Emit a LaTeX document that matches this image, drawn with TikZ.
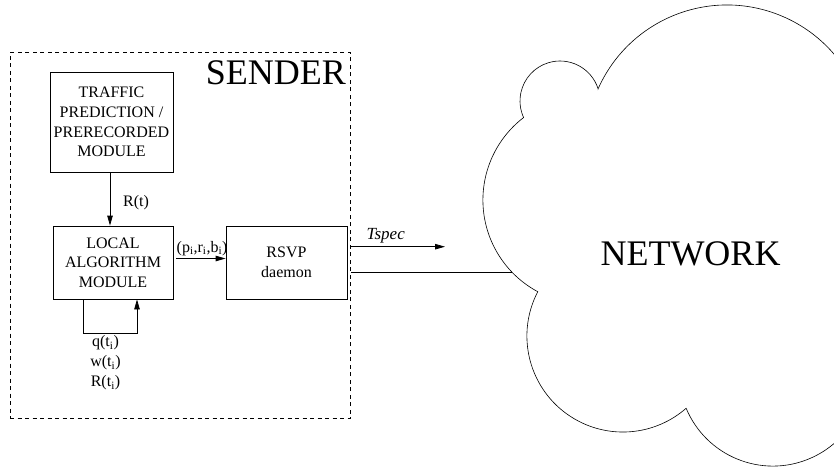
\documentclass[tikz,border=0pt]{standalone}
\usepackage{fontspec}
\setmainfont{Liberation Serif}
\usetikzlibrary{arrows.meta}
\begin{document}
\begin{tikzpicture}[x=1pt,y=-1pt,
  box/.style={draw, line width=0.8pt, inner sep=0pt, align=center,
              font=\fontsize{16}{19.6}\selectfont},
  lbl/.style={font=\fontsize{16}{20}\selectfont, inner sep=0pt, align=center},
  big/.style={font=\fontsize{36}{40}\selectfont, inner sep=0pt},
  arr/.style={-{Triangle[length=10pt,width=5.5pt]}, line width=0.8pt},
  senderbox/.style={draw, line width=0.7pt, dash pattern=on 4pt off 3.5pt, inner sep=0pt}]
\useasboundingbox (0,0) rectangle (834,468);
% sender frame
\node[senderbox, minimum width=340.7pt, minimum height=365.3pt] (sender) at (180.35,235.35) {};
\node[big, anchor=base east] (sendertxt) at (346,85) {SENDER};
% boxes
\node[box, minimum width=123pt, minimum height=100pt] (traffic) at (111.5,122)
  {TRAFFIC\\PREDICTION /\\PRERECORDED\\MODULE};
\node[box, minimum width=120pt, minimum height=73pt] (local) at (113,262.5)
  {LOCAL\\ALGORITHM\\MODULE};
\node[box, minimum width=121pt, minimum height=73pt] (rsvp) at (286.5,262.5)
  {RSVP\\daemon};
% arrows inside sender
\draw[arr] ([xshift=-1.5pt]traffic.south) -- ([xshift=-1.5pt]traffic.south |- local.north);
\node[lbl, anchor=base west] (rt) at (123,206) {R(t)};
\draw[arr] ([xshift=3pt,yshift=4pt]local.east) -- ([yshift=4pt]rsvp.west);
\node[lbl, anchor=base west] (pib) at (176.5,252) {(p\textsubscript{i},r\textsubscript{i},b\textsubscript{i})};
\draw[arr] ([xshift=-30pt]local.south) -- ++(0,34) -| ([xshift=24pt]local.south);
\node[lbl, anchor=base] (qwr) at (105.5,386.7) {q(t\textsubscript{i})\\w(t\textsubscript{i})\\R(t\textsubscript{i})};
% outgoing connections
\coordinate (tsA) at (351,246.7);
\coordinate (tsB) at (445,246.7);
\coordinate (lnA) at (351,272.7);
\coordinate (lnB) at (512,272.7);
\draw[arr] (tsA) -- (tsB);
\node[lbl, anchor=base west, font=\fontsize{17}{20}\selectfont\itshape] (tspec) at (366.5,239) {Tspec};
\draw[line width=1.3pt] (lnA) -- (lnB);
% cloud
\begin{scope}
\clip (0,0) rectangle (834,468);
\draw[line width=0.6pt] (598.1,88.8)
  arc[start angle=-17.76, end angle=-204.44, radius=40]
  arc[start angle=232.5, end angle=118.2, radius=104]
  arc[start angle=207.5, end angle=48.8, radius=96]
  arc[start angle=157.36, end angle=-10, radius=94]
  -- (859.5,194.2)
  arc[start angle=20, end angle=-156.1, radius=141] -- cycle;
\end{scope}
\node[big, anchor=base] (network) at (690.5,265) {NETWORK};
\end{tikzpicture}
\end{document}
